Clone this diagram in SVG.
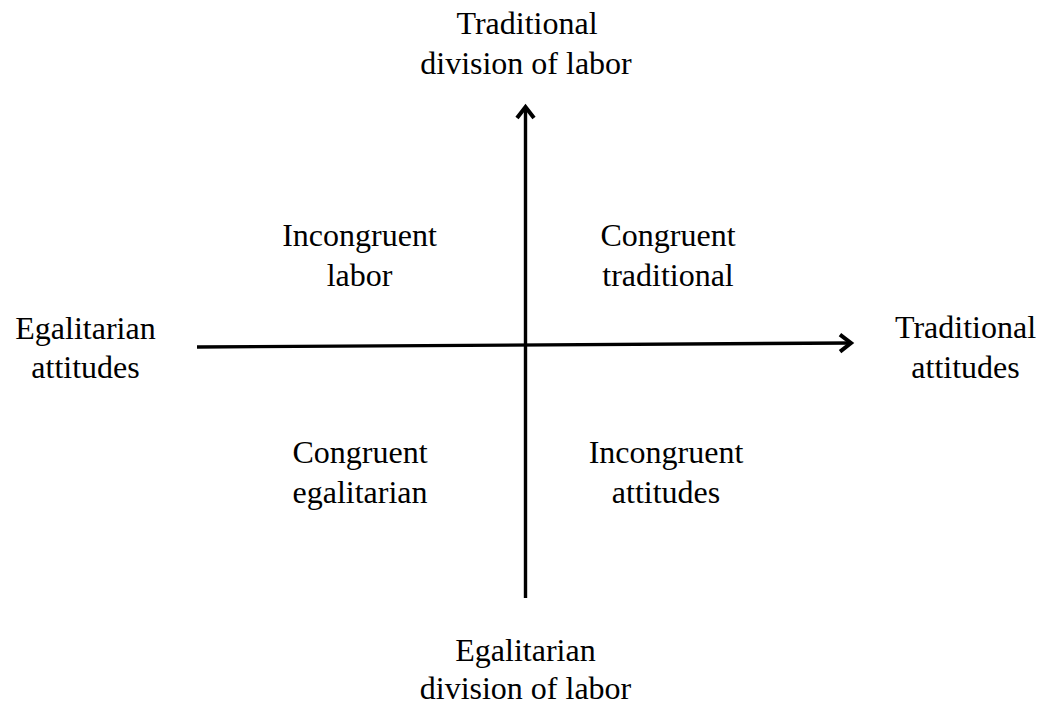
<svg xmlns="http://www.w3.org/2000/svg" width="1047" height="711" viewBox="0 0 1047 711">
  <defs>
    <style>
      .lbl { font-family: "Liberation Serif", "Times New Roman", serif; font-size: 32px; fill: #000; text-anchor: middle; }
      .axis { stroke: #000; stroke-width: 3.4; fill: none; }
    </style>
    <marker id="chevron" markerUnits="userSpaceOnUse" markerWidth="30" markerHeight="30" viewBox="-15 -15 30 30" refX="0" refY="0" orient="auto" overflow="visible">
      <path d="M -11 -8.5 L 0 0 L -11 8.5" fill="none" stroke="#000" stroke-width="4" stroke-linejoin="miter"/>
    </marker>
  </defs>
  <rect width="1047" height="711" fill="#fff"/>

  <!-- axes -->
  <g id="connectors">
    <line class="axis" x1="525.5" y1="598" x2="525.5" y2="107" marker-end="url(#chevron)"/>
    <line class="axis" x1="197" y1="347" x2="851" y2="343" marker-end="url(#chevron)"/>
  </g>

  <!-- axis end labels -->
  <g id="top-label">
    <text class="lbl" x="527" y="34">Traditional</text>
    <text class="lbl" x="526" y="74">division of labor</text>
  </g>
  <g id="bottom-label">
    <text class="lbl" x="525.5" y="661">Egalitarian</text>
    <text class="lbl" x="525.5" y="699">division of labor</text>
  </g>
  <g id="left-label">
    <text class="lbl" x="85.5" y="339">Egalitarian</text>
    <text class="lbl" x="85.5" y="378">attitudes</text>
  </g>
  <g id="right-label">
    <text class="lbl" x="965.5" y="338">Traditional</text>
    <text class="lbl" x="965.5" y="378">attitudes</text>
  </g>

  <!-- quadrant labels -->
  <g id="q-incongruent-labor">
    <text class="lbl" x="359.5" y="246">Incongruent</text>
    <text class="lbl" x="359.5" y="286">labor</text>
  </g>
  <g id="q-congruent-traditional">
    <text class="lbl" x="668" y="246">Congruent</text>
    <text class="lbl" x="668" y="286">traditional</text>
  </g>
  <g id="q-congruent-egalitarian">
    <text class="lbl" x="360" y="463">Congruent</text>
    <text class="lbl" x="360" y="503">egalitarian</text>
  </g>
  <g id="q-incongruent-attitudes">
    <text class="lbl" x="666" y="463">Incongruent</text>
    <text class="lbl" x="666" y="503">attitudes</text>
  </g>
</svg>
